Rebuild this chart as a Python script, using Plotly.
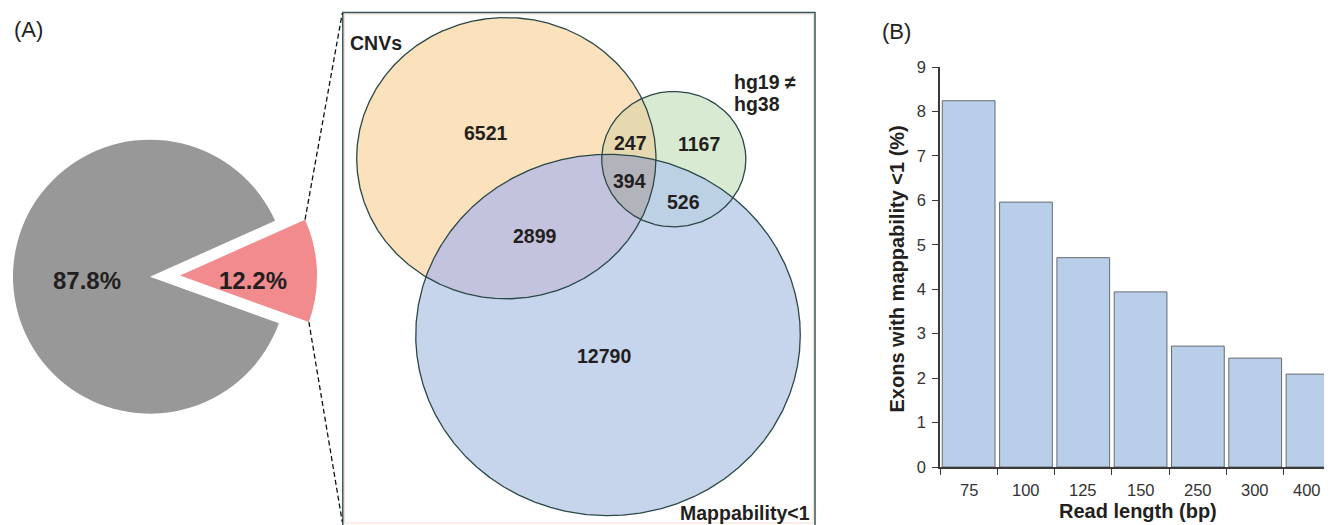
import numpy as np
import plotly.graph_objects as go

# ---------------- data ----------------
pie_labels = ["Exons affected", "Other exons"]
pie_values = [12.2, 87.8]

venn_sets = ["CNVs", "hg19 \u2260 hg38", "Mappability<1"]
venn_region_keys = ["100", "010", "001", "110", "101", "011", "111"]
venn_region_counts = [6521, 1167, 12790, 247, 2899, 526, 394]

read_lengths = ["75", "100", "125", "150", "250", "300", "400"]
pct_low_mappability = [8.24, 5.96, 4.71, 3.94, 2.72, 2.45, 2.09]

# ---------------- layout constants (pixels of the 1332x525 page) ----------------
PAGE_W, PAGE_H = 1332, 525
OFF = 8  # default body margin of the html page
W, H = PAGE_W - OFF, PAGE_H - OFF
FONT = "Liberation Sans, Arial, Helvetica, sans-serif"
TXT = "#231f20"

def px(x):
    return (x - OFF) / W

def py(y):
    return 1 - (y - OFF) / H

fig = go.Figure()

# ---------------- pie (two traces to emulate the exploded slice) ----------------
pie_r = 137
pie_c = (150, 276.7)
pull_c = (180, 275.6)
rot = 90 - 2.15 - 360 * pie_values[0] / sum(pie_values) / 2
gray, pink = "#979897", "#f28b8e"
for (cx, cy), cols in [(pie_c, ["rgba(0,0,0,0)", gray]), (pull_c, [pink, "rgba(0,0,0,0)"])]:
    fig.add_trace(go.Pie(
        labels=pie_labels, values=pie_values, sort=False, direction="clockwise",
        rotation=rot, textinfo="none", hoverinfo="skip",
        marker=dict(colors=cols, line=dict(width=0)),
        domain=dict(x=[px(cx - pie_r), px(cx + pie_r)], y=[py(cy + pie_r), py(cy - pie_r)]),
        showlegend=False,
    ))

# ---------------- bar chart ----------------
fig.add_trace(go.Bar(
    x=read_lengths, y=pct_low_mappability, xaxis="x", yaxis="y",
    marker=dict(color="#b9cfe9", line=dict(color="#666a70", width=1)),
    hoverinfo="skip", showlegend=False,
))

# ---------------- venn (overlay pixel axes) ----------------
kx, ky = 1.492, 1.402
set_sizes = []
for s in range(3):
    set_sizes.append(sum(c for k, c in zip(venn_region_keys, venn_region_counts) if k[s] == "1"))
centers = [(506.3, 158.2), (673.8, 159.2), (608.0, 335.0)]
ells = [(cx, cy, kx * np.sqrt(n), ky * np.sqrt(n)) for (cx, cy), n in zip(centers, set_sizes)]

def ell_pts(e, n=2400):
    t = np.linspace(0, 2 * np.pi, n)
    return e[0] + e[2] * np.cos(t), e[1] + e[3] * np.sin(t)

def inside(x, y, e):
    return ((x - e[0]) / e[2]) ** 2 + ((y - e[1]) / e[3]) ** 2 <= 1 + 1e-9

def region(idx):
    xs, ys = [], []
    for i in idx:
        x, y = ell_pts(ells[i])
        m = np.ones_like(x, dtype=bool)
        for j in idx:
            if j != i:
                m &= inside(x, y, ells[j])
        xs.append(x[m]); ys.append(y[m])
    x = np.concatenate(xs); y = np.concatenate(ys)
    a = np.arctan2(y - y.mean(), x - x.mean())
    o = np.argsort(a)
    return np.append(x[o], x[o][0]), np.append(y[o], y[o][0])

base_cols = ["#fbe1bc", "#d8ebd2", "#c6d5ec"]
for e, c in zip(ells, base_cols):
    x, y = ell_pts(e)
    fig.add_trace(go.Scatter(x=x, y=y, xaxis="x2", yaxis="y2", mode="lines", fill="toself",
                             fillcolor=c, line=dict(width=0), hoverinfo="skip", showlegend=False))
overlap_cols = {(0, 1): "#e6d9b0", (0, 2): "#c3c3dd", (1, 2): "#bcd2e4", (0, 1, 2): "#b3b4bb"}
for idx, c in overlap_cols.items():
    x, y = region(idx)
    fig.add_trace(go.Scatter(x=x, y=y, xaxis="x2", yaxis="y2", mode="lines", fill="toself",
                             fillcolor=c, line=dict(width=0), hoverinfo="skip", showlegend=False))
for e in ells:
    x, y = ell_pts(e)
    fig.add_trace(go.Scatter(x=x, y=y, xaxis="x2", yaxis="y2", mode="lines",
                             line=dict(color="#2b4848", width=1.3), hoverinfo="skip", showlegend=False))

# box frame around the venn
fig.add_trace(go.Scatter(x=[344.5, 344.5, 813.3, 813.3, 344.5], y=[523, 14, 14, 523, 523], xaxis="x2", yaxis="y2",
                         mode="lines", line=dict(color="#f6dcd2", width=1), hoverinfo="skip", showlegend=False))
fig.add_trace(go.Scatter(x=[342.8, 342.8, 815, 815], y=[526, 12.5, 12.5, 526], xaxis="x2", yaxis="y2",
                         mode="lines", line=dict(color="#37575c", width=1.5), hoverinfo="skip", showlegend=False))

# dashed zoom lines from the exploded slice to the venn box
share = pie_values[0] / sum(pie_values)
for ang, end in [(rot, (342.3, 13)), (rot + 360 * share, (342.3, 522))]:
    a = np.deg2rad(ang)
    sx, sy = pull_c[0] + pie_r * np.sin(a), pull_c[1] - pie_r * np.cos(a)
    fig.add_trace(go.Scatter(x=[sx, end[0]], y=[sy, end[1]], xaxis="x2", yaxis="y2", mode="lines",
                             line=dict(color="#111111", width=1.3, dash="5px,3px"),
                             hoverinfo="skip", showlegend=False))

annotations = []

def ann(text, x, y, size, bold=False, xanchor="center", yanchor="middle", angle=0,
        xref="x2", xshift=0, color=TXT):
    annotations.append(dict(
        text=text, x=x, y=y, xref=xref, yref="y2", showarrow=False, xshift=xshift,
        xanchor=xanchor, yanchor=yanchor, textangle=angle,
        font=dict(family=FONT, size=size, color=color, weight=700 if bold else 400),
    ))

# venn numbers
region_pos = {"100": (486, 133.3), "010": (699, 144), "001": (604, 355.7), "110": (630, 142.7),
              "101": (535, 235.7), "011": (683.3, 201.7), "111": (629, 180.7)}
for k, c in zip(venn_region_keys, venn_region_counts):
    ann(str(c), region_pos[k][0], region_pos[k][1], 19.5, bold=True)
ann(venn_sets[0], 348, 43, 19.5, bold=True, xanchor="left")
hg_a, hg_b = venn_sets[1].split(" \u2260 ")
ann(hg_a + " \u2260", 731.7, 81.7, 19.5, bold=True, xanchor="left")
ann(hg_b, 731.7, 104, 19.5, bold=True, xanchor="left")
ann(venn_sets[2], 678, 513, 19.5, bold=True, xanchor="left")

# pie labels
ann(f"{pie_values[1]}%", 87, 280, 24, bold=True)
ann(f"{pie_values[0]}%", 253, 280, 24, bold=True)

# x tick labels of the bar chart (category index positions; last one nudged inside the page)
for i, lab in enumerate(read_lengths):
    ann(lab, i, 489.5, 16.5, xref="x", xshift=-6 if i == len(read_lengths) - 1 else 0, color="#333333")

# panel letters and bar axis titles
ann("(A)", 28, 29, 22)
ann("(B)", 896, 31, 22)
ann("Exons with mappability <1 (%)", 896.5, 269, 20, bold=True, angle=-90)
ann("Read length (bp)", 1138, 511, 20, bold=True)

axis_col = "#3a3a3a"
fig.update_layout(
    width=W, height=H, margin=dict(l=0, r=0, t=0, b=0, pad=0, autoexpand=False),
    paper_bgcolor="white", plot_bgcolor="rgba(0,0,0,0)",
    showlegend=False, bargap=0.08,
    font=dict(family=FONT, color=TXT),
    xaxis=dict(domain=[px(940), 1], anchor="y", type="category", range=[-0.5, 6.34], automargin=False,
               showline=True, linecolor=axis_col, linewidth=1.6, ticks="outside", tickson="boundaries",
               ticklen=6, tickwidth=1.4, tickcolor=axis_col, showgrid=False, zeroline=False,
               showticklabels=False, fixedrange=True),
    yaxis=dict(domain=[py(467), py(67)], anchor="x", range=[0, 9], dtick=1, automargin=False,
               showline=True, linecolor=axis_col, linewidth=1.6, ticks="outside", ticklen=6, tickwidth=1.4,
               tickcolor=axis_col, showgrid=False, zeroline=False,
               tickfont=dict(family=FONT, size=16.5, color="#333333"), ticklabelstandoff=3, fixedrange=True),
    xaxis2=dict(domain=[0, 1], anchor="y2", range=[OFF, PAGE_W], visible=False, fixedrange=True, automargin=False),
    yaxis2=dict(domain=[0, 1], anchor="x2", range=[PAGE_H, OFF], visible=False, fixedrange=True, automargin=False),
    annotations=annotations,
)

fig.write_html("out.html")
